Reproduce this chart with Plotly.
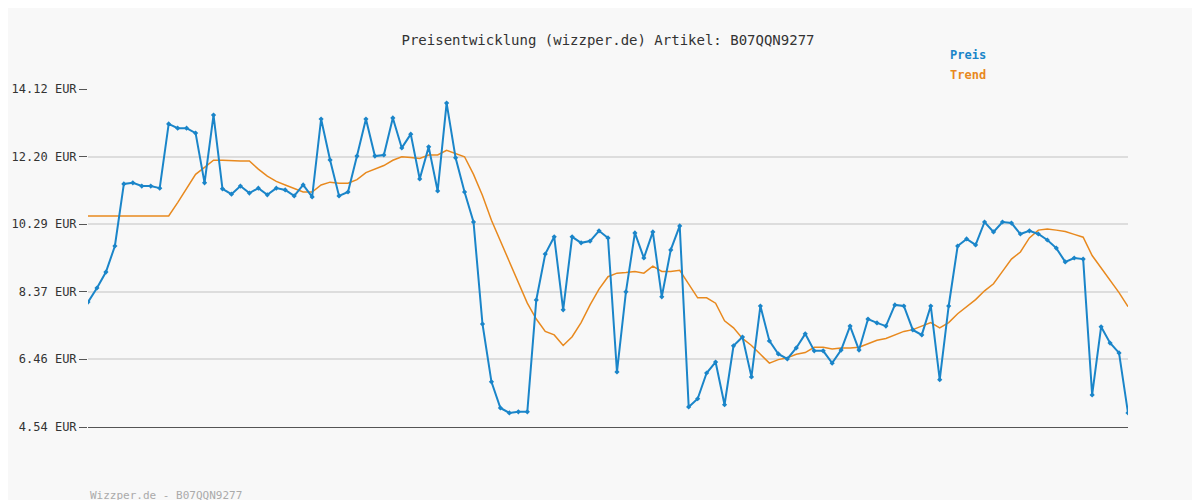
import plotly.graph_objects as go

title = "Preisentwicklung (wizzper.de) Artikel: B07QQN9277"
price = [8.08, 8.48, 8.93, 9.67, 11.43, 11.46, 11.37, 11.37, 11.31, 13.13,
         13.01, 13.01, 12.87, 11.46, 13.38, 11.29, 11.14, 11.37, 11.17, 11.31,
         11.12, 11.31, 11.26, 11.09, 11.40, 11.06, 13.27, 12.11, 11.09, 11.20,
         12.22, 13.27, 12.22, 12.25, 13.30, 12.45, 12.84, 11.57, 12.48, 11.23,
         13.72, 12.17, 11.20, 10.35, 7.46, 5.82, 5.08, 4.94, 4.97, 4.97,
         8.14, 9.44, 9.93, 7.86, 9.93, 9.76, 9.81, 10.10, 9.90, 6.10,
         8.37, 10.04, 9.33, 10.07, 8.23, 9.56, 10.24, 5.11, 5.34, 6.07,
         6.38, 5.17, 6.84, 7.09, 5.96, 7.97, 6.98, 6.61, 6.47, 6.78,
         7.18, 6.70, 6.70, 6.35, 6.72, 7.40, 6.72, 7.60, 7.49, 7.40,
         8.00, 7.97, 7.29, 7.15, 7.97, 5.88, 7.97, 9.67, 9.87, 9.70,
         10.35, 10.07, 10.35, 10.32, 10.01, 10.10, 10.01, 9.84, 9.61, 9.22,
         9.33, 9.30, 5.45, 7.38, 6.92, 6.64, 4.94]
trend = [10.52] * 10 + [
    10.9, 11.3, 11.7, 11.9, 12.1, 12.1, 12.08, 12.08, 12.08, 11.85,
    11.65, 11.5, 11.4, 11.3, 11.2, 11.2, 11.4, 11.48, 11.45, 11.45,
    11.55, 11.75, 11.85, 11.95, 12.1, 12.2, 12.18, 12.15, 12.25, 12.25,
    12.38, 12.3, 12.2, 11.7, 11.1, 10.4, 9.8, 9.2, 8.6, 8.05,
    7.6, 7.25, 7.15, 6.85, 7.1, 7.5, 8.0, 8.45, 8.8, 8.9,
    8.92, 8.95, 8.9, 9.1, 8.95, 8.95, 8.98, 8.6, 8.2, 8.2,
    8.05, 7.55, 7.35, 7.05, 6.85, 6.6, 6.35, 6.45, 6.5, 6.6,
    6.65, 6.8, 6.8, 6.75, 6.78, 6.78, 6.8, 6.9, 7.0, 7.05,
    7.15, 7.25, 7.3, 7.4, 7.5, 7.35, 7.5, 7.75, 7.95, 8.15,
    8.4, 8.6, 8.95, 9.3, 9.5, 9.9, 10.12, 10.15, 10.12, 10.08,
    10.0, 9.92, 9.4, 9.05, 8.7, 8.35, 7.95]
y_ticks = [4.54, 6.46, 8.37, 10.29, 12.20, 14.12]
y_labels = ["%.2f EUR" % v for v in y_ticks]

blue = "#1a85c9"
orange = "#e8891e"
font = "DejaVu Sans Mono"
xs = list(range(len(price)))

fig = go.Figure()
fig.add_trace(go.Scatter(x=xs, y=trend, mode="lines", line=dict(color=orange, width=1.5)))
fig.add_trace(go.Scatter(x=xs, y=price, mode="lines+markers", line=dict(color=blue, width=2),
                         marker=dict(color=blue, size=4, symbol="diamond")))

fig.update_layout(
    width=1200, height=500, showlegend=False,
    paper_bgcolor="#f8f8f8", plot_bgcolor="#f8f8f8",
    margin=dict(l=80, r=80, t=81, b=81, autoexpand=False),
    font=dict(family=font, size=12, color="#333"),
    title=dict(text=title, x=0.5, y=0.945, xanchor="center", font=dict(size=14, family=font, color="#333")),
    xaxis=dict(range=[0, len(price) - 1], showgrid=False, showticklabels=False, zeroline=False,
               showline=True, linecolor="#555", linewidth=1, automargin=False),
    yaxis=dict(range=[4.54, 14.12], tickvals=y_ticks, ticktext=y_labels, gridcolor="#dddddd",
               gridwidth=1.5, zeroline=False, ticks="outside", ticklen=8, tickcolor="#555",
               automargin=False, tickfont=dict(size=12, family=font, color="#333")),
    annotations=[
        dict(text="<b>Preis</b>", x=940, y=47, showarrow=False,
             font=dict(color=blue, size=12, family=font), xanchor="left"),
        dict(text="<b>Trend</b>", x=940, y=67, showarrow=False,
             font=dict(color=orange, size=12, family=font), xanchor="left"),
        dict(text="Wizzper.de - B07QQN9277", x=80, y=487, showarrow=False,
             font=dict(color="#aaaaaa", size=11, family=font), xanchor="left"),
    ],
)
# annotation positions given in pixels -> convert to paper coords
for a in fig.layout.annotations:
    a.xref = "paper"; a.yref = "paper"
    a.x = (a.x - 80) / 1040
    a.y = (419 - a.y) / 338
    a.yanchor = "middle"

fig.write_html("out.html")
